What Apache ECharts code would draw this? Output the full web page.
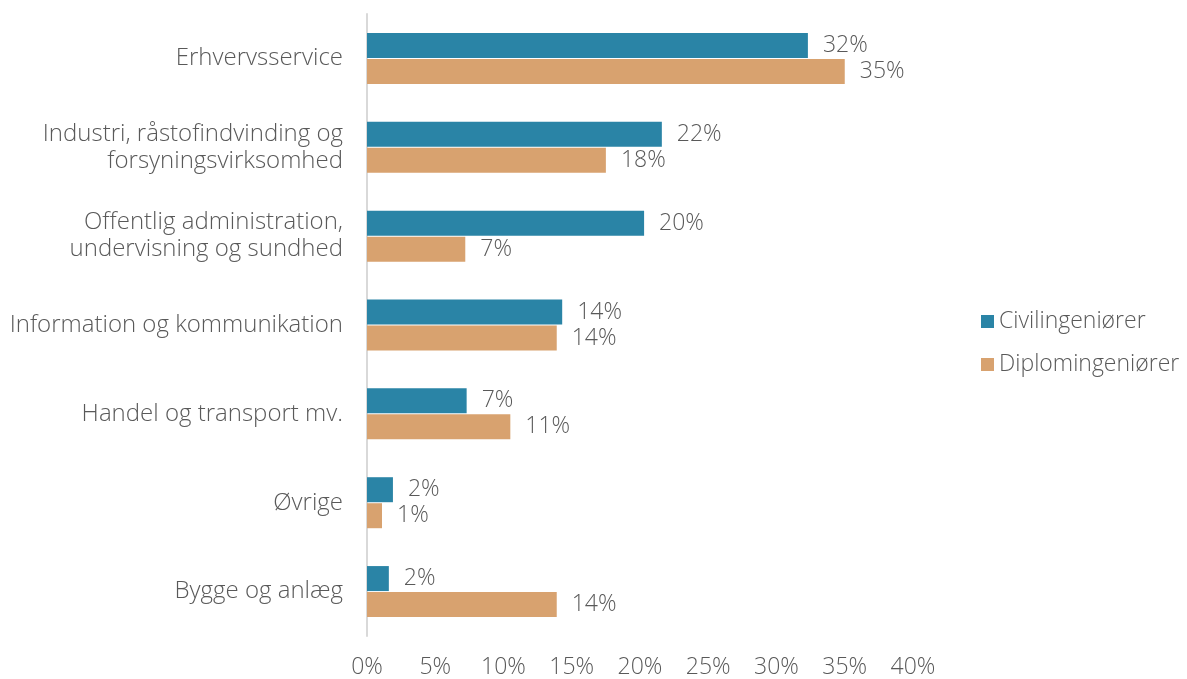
<!DOCTYPE html>
<html><head><meta charset="utf-8">
<script src="https://cdn.jsdelivr.net/npm/echarts@6/dist/echarts.min.js"></script>
<style>html,body{margin:0;padding:0;background:#fff}#c{width:1187px;height:679px}</style>
</head><body><div id="c"></div>
<script>
const categories = ["Erhvervsservice","Industri, råstofindvinding og\nforsyningsvirksomhed","Offentlig administration,\nundervisning og sundhed","Information og kommunikation","Handel og transport mv.","Øvrige","Bygge og anlæg"];
const civilValues = [32.3, 21.6, 20.3, 14.3, 7.3, 1.9, 1.6];
const diplomValues = [35.0, 17.5, 7.2, 13.9, 10.5, 1.1, 13.9];
const seriesNames = ["Civilingeniører","Diplomingeniører"];
const xTicks = [0,5,10,15,20,25,30,35,40];

const font = "Open Sans";
const txt = "#595959";
const chart = echarts.init(document.getElementById('c'));
const lbl = {show:true, position:'right', distance:15, color:txt, fontSize:23, fontWeight:300, fontFamily:font,
  formatter: p => Math.round(p.value) + '%'};
chart.setOption({
  animation:false,
  grid:{left:367, right:274, top:14, bottom:39},
  legend:{orient:'vertical', left:976, top:305, itemWidth:13, itemHeight:13, itemGap:20,
    textStyle:{color:txt, fontSize:23, fontWeight:300, fontFamily:font}, icon:'rect', data:seriesNames},
  xAxis:{type:'value', min:0, max:40, interval:5, splitLine:{show:false},
    axisLine:{show:false}, axisTick:{show:false},
    axisLabel:{color:txt, fontSize:23, fontWeight:300, fontFamily:font, margin:20,
      formatter:v=>xTicks.includes(v) ? v+'%' : ''}},
  yAxis:{type:'category', inverse:true, data:categories,
    axisLine:{show:true, lineStyle:{color:'#d9d9d9', width:2}}, axisTick:{show:false},
    axisLabel:{color:txt, fontSize:24, fontWeight:300, fontFamily:font, margin:24, lineHeight:27, align:'right'}},
  series:[
    {name:seriesNames[0], type:'bar', data:civilValues, barWidth:25, barGap:'4%',
      itemStyle:{color:'#2A84A6'}, label:lbl},
    {name:seriesNames[1], type:'bar', data:diplomValues, barWidth:25,
      itemStyle:{color:'#D8A26F'}, label:lbl}
  ]
});
</script></body></html>
